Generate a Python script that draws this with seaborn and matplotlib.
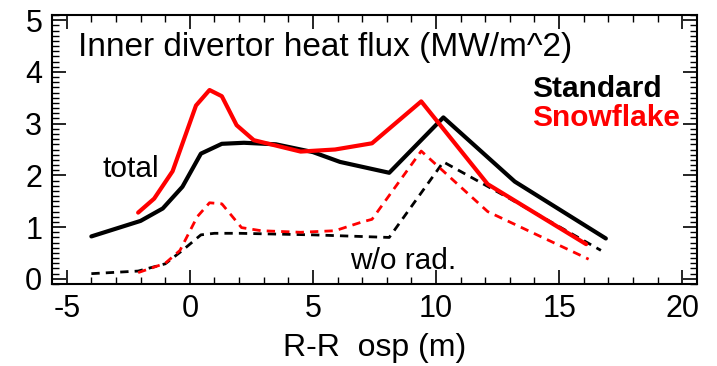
import numpy as np
import pandas as pd
import matplotlib
matplotlib.use("Agg")
import matplotlib.pyplot as plt
import seaborn as sns
from matplotlib.ticker import MultipleLocator

# Data
std_total_x = [-4.0, -2.0, -1.1, -0.3, 0.45, 1.3, 2.2, 3.5, 5.0, 6.1, 8.1, 10.3, 13.2, 16.9]
std_total_y = [0.82, 1.12, 1.36, 1.78, 2.42, 2.61, 2.63, 2.6, 2.45, 2.26, 2.05, 3.12, 1.88, 0.78]
sf_total_x = [-2.1, -1.45, -0.7, 0.25, 0.8, 1.3, 1.9, 2.6, 4.5, 5.9, 7.4, 9.4, 12.1, 16.1]
sf_total_y = [1.28, 1.55, 2.08, 3.35, 3.65, 3.53, 2.97, 2.68, 2.46, 2.5, 2.62, 3.43, 1.83, 0.67]
std_norad_x = [-4.0, -2.1, -1.0, -0.3, 0.45, 1.0, 2.0, 5.0, 8.1, 10.3, 13.0, 16.7]
std_norad_y = [0.1, 0.15, 0.29, 0.55, 0.85, 0.88, 0.88, 0.85, 0.8, 2.26, 1.55, 0.55]
sf_norad_x = [-2.1, -1.0, -0.4, 0.3, 0.8, 1.3, 2.1, 2.9, 4.5, 5.9, 7.0, 7.4, 9.4, 12.1, 16.2]
sf_norad_y = [0.12, 0.3, 0.55, 1.2, 1.47, 1.45, 0.99, 0.93, 0.9, 0.93, 1.1, 1.15, 2.47, 1.3, 0.38]

frames = []
for name, xs, ys in [("std_total", std_total_x, std_total_y),
                     ("sf_total", sf_total_x, sf_total_y),
                     ("std_norad", std_norad_x, std_norad_y),
                     ("sf_norad", sf_norad_x, sf_norad_y)]:
    frames.append(pd.DataFrame({"x": xs, "y": ys, "series": name}))
df = pd.concat(frames, ignore_index=True)

sns.set_theme(style="ticks")
plt.rcParams['font.family'] = ['Liberation Sans', 'DejaVu Sans']
plt.rcParams['axes.unicode_minus'] = False
plt.rcParams['text.color'] = 'black'
plt.rcParams['axes.labelcolor'] = 'black'

fig = plt.figure(figsize=(7.17, 3.66), dpi=100)
ax = fig.add_axes([0.0725, 1 - 284 / 366, 0.8995, (284 - 15) / 366])

styles = {
    "std_total": dict(color="black", lw=3.0, ls="-"),
    "sf_total": dict(color="red", lw=3.0, ls="-"),
    "std_norad": dict(color="black", lw=2.0, ls=(0, (3, 2.2))),
    "sf_norad": dict(color="red", lw=2.0, ls=(0, (3, 2.2))),
}
for name in ["std_total", "std_norad", "sf_norad", "sf_total"]:
    st = styles[name]
    sns.lineplot(data=df[df.series == name], x="x", y="y", sort=False,
                 estimator=None, ax=ax, color=st["color"], linewidth=st["lw"],
                 linestyle=st["ls"])

ax.set_xlim(-5.6, 20.6)
ax.set_ylim(-0.1, 5.1)
ax.xaxis.set_major_locator(MultipleLocator(5))
ax.xaxis.set_minor_locator(MultipleLocator(1))
ax.yaxis.set_major_locator(MultipleLocator(1))
ax.yaxis.set_minor_locator(MultipleLocator(0.1))
ax.tick_params(which="both", direction="in", top=True, right=True, colors="black")
ax.tick_params(which="major", length=10, width=1.2, labelsize=22, pad=7)
ax.tick_params(which="minor", length=5, width=1.0)
for s in ax.spines.values():
    s.set_linewidth(1.5)
    s.set_color("black")
ax.set_xlabel("R-R  osp (m)", fontsize=23, labelpad=7, color="black")
ax.set_ylabel("")

def fy(py):
    return 1 - py / 366

def fx(px):
    return px / 717

fig.text(fx(78), fy(56), "Inner divertor heat flux (MW/m^2)",
         fontsize=24, ha="left", va="baseline", color="black")
fig.text(fx(532), fy(97), "Standard", fontsize=21.5,
         fontweight="bold", color="black", ha="left", va="baseline")
fig.text(fx(532), fy(126), "Snowflake", fontsize=21.5,
         fontweight="bold", color="red", ha="left", va="baseline")
fig.text(fx(103), fy(177), "total", fontsize=21.5, ha="left", va="baseline",
         color="black")
fig.text(fx(350), fy(269), "w/o rad.", fontsize=21.5, ha="left", va="baseline",
         color="black")

fig.savefig("out.png", dpi=100)
